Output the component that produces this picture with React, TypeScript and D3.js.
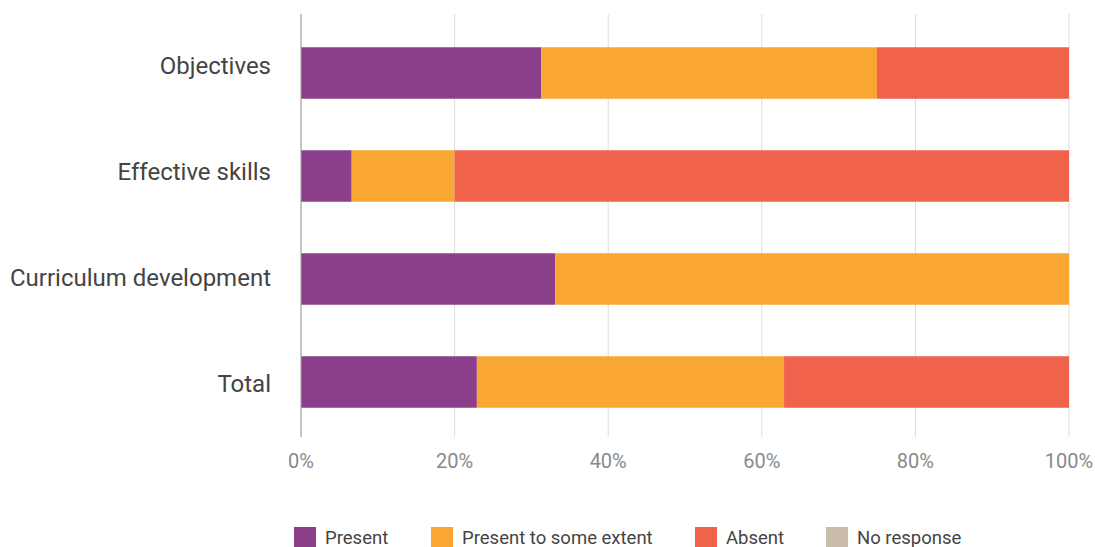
import * as d3 from "d3";
import { useEffect, useRef } from "react";

// categories, top to bottom
const categories: string[] = [
  "Objectives",
  "Effective skills",
  "Curriculum development",
  "Total",
];
const seriesNames: string[] = [
  "Present",
  "Present to some extent",
  "Absent",
  "No response",
];
const seriesColors: string[] = ["#8b3f8b", "#f9a635", "#f0624b", "#c9bcaa"];

// percentages per category
const present: number[] = [31.3, 6.6, 33.1, 22.9];
const someExtent: number[] = [43.7, 13.4, 66.9, 40.0];
const absent: number[] = [25.0, 80.0, 0, 37.1];
const noResponse: number[] = [0, 0, 0, 0];

const xTicks: number[] = [0, 20, 40, 60, 80, 100];

const width = 1095;
const height = 547;
const marginTop = 14;
const marginRight = 26;
const marginBottom = 110;
const marginLeft = 301;
const font = "Roboto, 'Noto Sans', sans-serif";

export default function App() {
  const svgRef = useRef<SVGSVGElement | null>(null);

  useEffect(() => {
    const svg = d3.select(svgRef.current);
    svg.selectAll("*").remove();

    const rows = categories.map((c, i) => ({
      category: c,
      Present: present[i],
      "Present to some extent": someExtent[i],
      Absent: absent[i],
      "No response": noResponse[i],
    }));

    const stack = d3.stack<any>().keys(seriesNames);
    const stacked = stack(rows);

    const x = d3
      .scaleLinear()
      .domain([0, 100])
      .range([marginLeft, width - marginRight]);

    const y = d3
      .scaleBand()
      .domain(categories)
      .range([marginTop + 7.5, height - marginBottom - 3.5])
      .paddingInner(0.5)
      .paddingOuter(0.25);

    // labels sit on a slightly wider spacing than the bars
    const yLabel = d3
      .scaleBand()
      .domain(categories)
      .range([marginTop - 1.5, height - marginBottom - 0.5]);

    const color = d3.scaleOrdinal<string>().domain(seriesNames).range(seriesColors);

    // gridlines
    svg
      .append("g")
      .selectAll("line")
      .data(xTicks.filter((t) => t > 0))
      .join("line")
      .attr("x1", (d) => x(d))
      .attr("x2", (d) => x(d))
      .attr("y1", marginTop)
      .attr("y2", height - marginBottom)
      .attr("stroke", "#dcdcdc")
      .attr("stroke-width", 1);

    // bars
    svg
      .append("g")
      .selectAll("g")
      .data(stacked)
      .join("g")
      .attr("fill", (d) => color(d.key))
      .selectAll("rect")
      .data((d) => d)
      .join("rect")
      .attr("x", (d) => x(d[0]))
      .attr("width", (d) => Math.max(0, x(d[1]) - x(d[0])))
      .attr("y", (d) => y(d.data.category)!)
      .attr("height", y.bandwidth());

    // zero line
    svg
      .append("line")
      .attr("x1", x(0))
      .attr("x2", x(0))
      .attr("y1", marginTop)
      .attr("y2", height - marginBottom)
      .attr("stroke", "#9e9e9e")
      .attr("stroke-width", 1.2);

    // x tick labels
    svg
      .append("g")
      .selectAll("text")
      .data(xTicks)
      .join("text")
      .attr("x", (d) => x(d))
      .attr("y", height - marginBottom + 31)
      .attr("text-anchor", "middle")
      .attr("font-family", font)
      .attr("font-size", 20)
      .attr("fill", "#8a8a8a")
      .text((d) => `${d}%`);

    // category labels
    svg
      .append("g")
      .selectAll("text")
      .data(categories)
      .join("text")
      .attr("x", marginLeft - 30)
      .attr("y", (d) => yLabel(d)! + yLabel.bandwidth() / 2)
      .attr("dy", "0.35em")
      .attr("text-anchor", "end")
      .attr("font-family", font)
      .attr("font-size", 24)
      .attr("fill", "#444444")
      .text((d) => d);

    // legend
    const legendX = [294, 431, 695, 826];
    const legend = svg
      .append("g")
      .selectAll("g")
      .data(seriesNames)
      .join("g")
      .attr("transform", (_, i) => `translate(${legendX[i]},527)`);
    legend
      .append("rect")
      .attr("width", 22)
      .attr("height", 21)
      .attr("fill", (d) => color(d));
    legend
      .append("text")
      .attr("x", 31)
      .attr("y", 17)
      .attr("font-family", font)
      .attr("font-size", 18.5)
      .attr("fill", "#444444")
      .text((d) => d);
  }, []);

  return (
    <svg
      ref={svgRef}
      width={width}
      height={height}
      style={{ position: "absolute", left: 0, top: 0 }}
    />
  );
}
